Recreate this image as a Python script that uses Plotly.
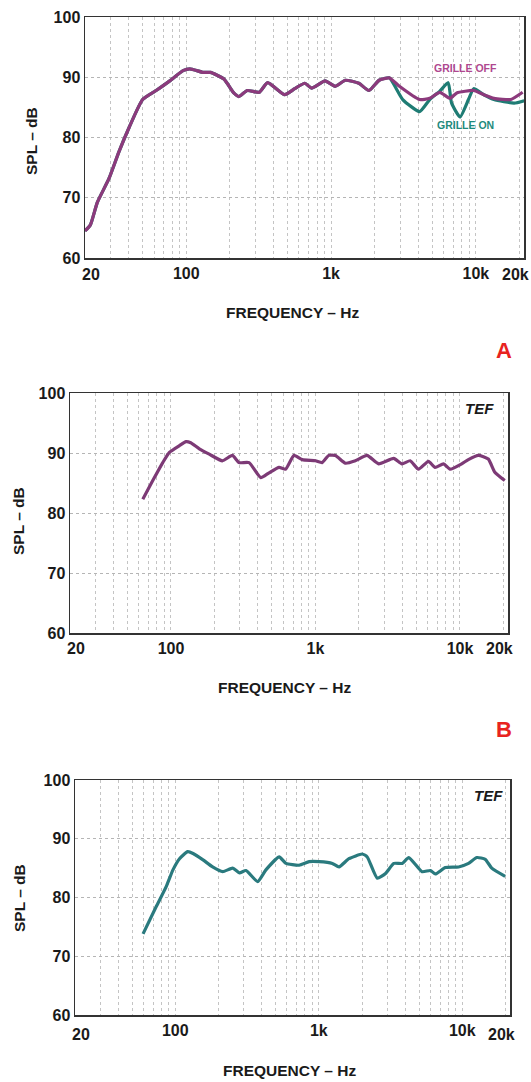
import plotly.graph_objects as go
import math

# ---------------- DATA ----------------
# Chart 1 (A): grille off / grille on
f_off = [20, 21.8, 24.3, 29.3, 34.4, 40.4, 50, 62, 77, 95, 106, 131, 147, 182, 213, 231, 264, 319, 365, 478,
         561, 659, 734, 910, 1069, 1254, 1556, 1828, 2148, 2523, 2964, 4087, 4800, 5640, 6625, 7380, 9660,
         11350, 13330, 17420, 21040]
spl_off = [64.5, 65.5, 69.2, 73.2, 77.7, 81.7, 86.3, 87.8, 89.4, 91.1, 91.4, 90.8, 90.8, 89.7, 87.4, 86.8, 87.8,
           87.5, 89.1, 87.1, 88.1, 89.0, 88.2, 89.4, 88.5, 89.5, 89.0, 87.8, 89.5, 89.9, 88.5, 86.3, 86.5, 87.5,
           86.5, 87.4, 87.8, 87.1, 86.5, 86.3, 87.5]
f_on = [20, 21.8, 24.3, 29.3, 34.4, 40.4, 50, 62, 77, 95, 106, 131, 147, 182, 213, 231, 264, 319, 365, 478,
        561, 659, 734, 910, 1069, 1254, 1556, 1828, 2148, 2523, 3126, 4087, 4800, 5640, 6440, 6800, 7780, 8890,
        9660, 11350, 13330, 18370, 21580]
spl_on = [64.5, 65.5, 69.2, 73.2, 77.7, 81.7, 86.3, 87.8, 89.4, 91.1, 91.4, 90.8, 90.8, 89.7, 87.4, 86.8, 87.8,
          87.5, 89.1, 87.1, 88.1, 89.0, 88.2, 89.4, 88.5, 89.5, 89.0, 87.8, 89.5, 89.9, 86.3, 84.3, 86.3, 87.7,
          89.1, 85.7, 83.4, 86.3, 88.1, 87.1, 86.3, 85.7, 86.1]

# Chart 2 (TEF, purple)
f_b = [63.8, 74.8, 87.7, 97.5, 114, 127, 137, 157, 184, 227, 266, 296, 347, 418, 477, 560, 621, 710, 810, 1000,
       1111, 1236, 1374, 1611, 1888, 2274, 2737, 3474, 3963, 4522, 5164, 6052, 6729, 7690, 8537, 10280, 11430,
       13400, 15700, 17430, 20420]
spl_b = [82.3, 85.4, 88.4, 90.1, 91.2, 91.9, 91.7, 90.7, 89.8, 88.7, 89.6, 88.4, 88.4, 85.9, 86.7, 87.6, 87.3,
         89.6, 88.9, 88.7, 88.4, 89.6, 89.6, 88.3, 88.7, 89.6, 88.2, 89.1, 88.2, 88.7, 87.3, 88.6, 87.6, 88.2,
         87.3, 88.2, 88.9, 89.6, 89.0, 86.8, 85.4]

# Chart 3 (TEF, teal)
f_c = [59.6, 73.8, 86.6, 96.3, 107, 122, 133, 156, 182, 214, 251, 280, 311, 375, 428, 530, 590, 730, 857, 1005,
       1243, 1383, 1622, 2009, 2176, 2554, 2918, 3335, 3810, 4237, 5245, 5993, 6496, 7622, 9420, 11060, 12630,
       14450, 16040, 19890]
spl_c = [73.8, 78.5, 81.9, 84.7, 86.6, 87.8, 87.5, 86.4, 85.2, 84.4, 85.0, 84.2, 84.6, 82.7, 84.7, 86.9, 85.8,
         85.5, 86.1, 86.1, 85.8, 85.2, 86.6, 87.4, 86.9, 83.3, 84.1, 85.8, 85.8, 86.8, 84.4, 84.6, 84.0, 85.1,
         85.2, 85.8, 86.8, 86.5, 85.0, 83.6]

x_tickvals = [100, 1000, 10000]
x_ticktext = ["100", "1k", "10k"]
x_edge_vals = [20, 20000]
x_edge_text = ["20", "20k"]
y_tickvals = [60, 70, 80, 90, 100]

# ---------------- LAYOUT ----------------
W, H = 531, 1082
minor_vals = [m * 10 ** d for d in range(1, 5) for m in range(2, 10) if 20 < m * 10 ** d <= 22000] + [100, 1000, 10000]

def px_x(p):
    return p / W

def px_y(p):
    return 1 - p / H

panels = [
    dict(x0=85, x1=524, y0=17, y1=258, lab=274),
    dict(x0=70, x1=508, y0=393, y1=633, lab=648),
    dict(x0=75, x1=510, y0=780, y1=1015, lab=1034),
]

fig = go.Figure()

off_col = "#8c3a7c"
on_col = "#1f7c74"
b_col = "#7d3a76"
c_col = "#2a7a7e"

common_line = dict(width=3.2, shape="spline", smoothing=0.5)

fig.add_trace(go.Scatter(x=f_on, y=spl_on, mode="lines", line=dict(color=on_col, **common_line),
                         xaxis="x", yaxis="y", name="GRILLE ON", showlegend=False, hoverinfo="skip"))
fig.add_trace(go.Scatter(x=f_off, y=spl_off, mode="lines", line=dict(color=off_col, **common_line),
                         xaxis="x", yaxis="y", name="GRILLE OFF", showlegend=False, hoverinfo="skip"))
fig.add_trace(go.Scatter(x=f_b, y=spl_b, mode="lines", line=dict(color=b_col, **common_line),
                         xaxis="x2", yaxis="y2", showlegend=False, hoverinfo="skip"))
fig.add_trace(go.Scatter(x=f_c, y=spl_c, mode="lines", line=dict(color=c_col, **common_line),
                         xaxis="x3", yaxis="y3", showlegend=False, hoverinfo="skip"))

tick_font = dict(family="Liberation Sans", size=16, color="#1a1a1a")
title_font = dict(family="Liberation Sans", size=15.5, color="#1a1a1a")

layout = dict(
    width=W, height=H,
    margin=dict(l=0, r=0, t=0, b=0, pad=0),
    paper_bgcolor="white", plot_bgcolor="white",
    showlegend=False,
)

for i, p in enumerate(panels):
    sx = "" if i == 0 else str(i + 1)
    layout["xaxis" + sx] = dict(
        type="log", range=[math.log10(20.0), math.log10(21500)],
        domain=[px_x(p["x0"]), px_x(p["x1"])],
        anchor="y" + sx, automargin=False,
        tickvals=x_tickvals, ticktext=["<b>%s</b>" % t for t in x_ticktext],
        tickfont=tick_font, ticks="", ticklen=0,
        showgrid=False, zeroline=False,
        showline=True, linecolor="#333333", linewidth=1.5, mirror=True,
        minor=dict(tickvals=minor_vals, showgrid=True, gridcolor="#c4c4c4", griddash="dot", gridwidth=1, ticks=""),
    )
    layout["yaxis" + sx] = dict(
        range=[60, 100], domain=[px_y(p["y1"]), px_y(p["y0"])],
        anchor="x" + sx, automargin=False,
        tickvals=y_tickvals, ticktext=["<b>%d</b>" % v for v in y_tickvals],
        tickfont=tick_font, ticks="",
        showgrid=True, gridcolor="#b5b5b5", griddash="dot", gridwidth=1, zeroline=False,
        showline=True, linecolor="#333333", linewidth=1.5, mirror=True,
    )

fig.update_layout(**layout)

# edge tick labels (20 / 20k) nudged inward as in the reference
for i, p in enumerate(panels):
    sx = "" if i == 0 else str(i + 1)
    for v, t, sh in zip(x_edge_vals, x_edge_text, [6, -4]):
        fig.add_annotation(xref="x" + sx, yref="paper", x=math.log10(v), y=px_y(p["lab"]), xshift=sh,
                           text="<b>%s</b>" % t, showarrow=False, xanchor="center", yanchor="middle",
                           font=tick_font)

# axis titles (positioned as in the reference)
ytitles = [(32, 141), (18, 521), (19, 898)]
xtitles = [(292, 312), (284, 687), (289, 1070)]
for (x, y) in ytitles:
    fig.add_annotation(xref="paper", yref="paper", x=px_x(x), y=px_y(y), text="<b>SPL – dB</b>",
                       textangle=-90, showarrow=False, xanchor="center", yanchor="middle", font=title_font)
for (x, y) in xtitles:
    fig.add_annotation(xref="paper", yref="paper", x=px_x(x), y=px_y(y), text="<b>FREQUENCY – Hz</b>",
                       showarrow=False, xanchor="center", yanchor="middle", font=title_font)

annos = [
    dict(x=465, y=68, text="<b>GRILLE OFF</b>", font=dict(family="Liberation Sans", size=10.5, color="#b0478f")),
    dict(x=465, y=125, text="<b>GRILLE ON</b>", font=dict(family="Liberation Sans", size=10.5, color="#1f8a7c")),
    dict(x=479, y=408, text="<b><i>TEF</i></b>", font=dict(family="Liberation Sans", size=15, color="#1a1a1a")),
    dict(x=488, y=795, text="<b><i>TEF</i></b>", font=dict(family="Liberation Sans", size=15, color="#1a1a1a")),
    dict(x=504, y=350, text="<b>A</b>", font=dict(family="Liberation Sans", size=22, color="#e8231e")),
    dict(x=504, y=729, text="<b>B</b>", font=dict(family="Liberation Sans", size=22, color="#e8231e")),
]
for a in annos:
    a["x"] = px_x(a["x"])
    a["y"] = px_y(a["y"])
    fig.add_annotation(xref="paper", yref="paper", showarrow=False, xanchor="center", yanchor="middle", **a)

# the page body has a default 8px margin; remove it so the figure fills the window exactly
fig.write_html("out.html", config={"displayModeBar": False, "staticPlot": True},
               post_script="document.body.style.margin='0';")
